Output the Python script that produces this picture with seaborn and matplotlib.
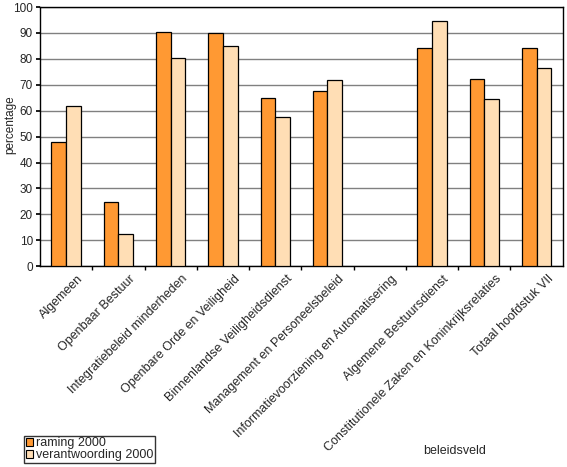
import numpy as np
import pandas as pd
import matplotlib
matplotlib.use("Agg")
import matplotlib.pyplot as plt
import matplotlib.transforms as mtransforms
import seaborn as sns
from matplotlib.ticker import FixedLocator
from matplotlib.patches import Patch

categories = ["Algemeen", "Openbaar Bestuur", "Integratiebeleid minderheden",
              "Openbare Orde en Veiligheid", "Binnenlandse Veiligheidsdienst",
              "Management en Personeelsbeleid", "Informatievoorziening en Automatisering",
              "Algemene Bestuursdienst", "Constitutionele Zaken en Koninkrijksrelaties",
              "Totaal hoofdstuk VII"]
raming = [48.0, 24.8, 90.4, 89.8, 64.7, 67.7, np.nan, 84.0, 72.1, 84.0]
verantwoording = [61.8, 12.3, 80.4, 84.8, 57.5, 71.9, np.nan, 94.7, 64.6, 76.6]
series = ["raming 2000", "verantwoording 2000"]
colors = ["#FF9933", "#FFDEB5"]

sns.set_theme(style="white")
plt.rcParams["font.family"] = ["Liberation Sans", "DejaVu Sans"]

df = pd.DataFrame({
    "beleidsveld": categories * 2,
    "percentage": raming + verantwoording,
    "serie": [series[0]] * len(categories) + [series[1]] * len(categories),
})

fig = plt.figure(figsize=(5.67, 4.67), dpi=100)
ax = fig.add_axes([0.0705, 0.430, 0.922, 0.555])
sns.barplot(data=df, x="beleidsveld", y="percentage", hue="serie", order=categories,
            hue_order=series, palette=colors, saturation=1, width=0.56,
            edgecolor="black", linewidth=0.9, ax=ax, legend=False, zorder=3)

ax.set_ylim(0, 100)
ax.set_xlim(-0.5, len(categories) - 0.5)
ax.set_yticks(range(0, 101, 10))
ax.yaxis.grid(True, color="#808080", linewidth=1.0, zorder=0)
ax.set_axisbelow(True)
for s in ax.spines.values():
    s.set_color("black")
    s.set_linewidth(1.0)

ax.tick_params(axis="y", labelsize=8.5, length=3, color="black", left=True, pad=2)
ax.set_xticks(range(len(categories)))
ax.set_xticklabels(categories, rotation=45, ha="right", va="center",
                   rotation_mode="anchor", fontsize=9)
ax.tick_params(axis="x", which="major", length=0, pad=8)
offset = mtransforms.ScaledTranslation(15 / 100, 0, fig.dpi_scale_trans)
for lab in ax.get_xticklabels():
    lab.set_transform(lab.get_transform() + offset)
ax.xaxis.set_minor_locator(FixedLocator(np.arange(0.5, len(categories) - 0.5, 1)))
ax.tick_params(axis="x", which="minor", length=3, color="black", bottom=True, direction="out")

ax.set_xlabel("")
ax.set_ylabel("")
fig.text(10 / 567, 0.732, "percentage", fontsize=8.5, rotation=90, ha="center", va="center")
fig.text(0.746, 0.034, "beleidsveld", fontsize=9, ha="left", va="center")

handles = [Patch(facecolor=c, edgecolor="black", linewidth=0.8) for c in colors]
leg = fig.legend(handles, series, loc="lower left", bbox_to_anchor=(0.042, 0.008),
                 fontsize=9, frameon=True, fancybox=False, handlelength=0.6,
                 handleheight=0.6, handletextpad=0.2, borderpad=0.15, labelspacing=0.0,
                 borderaxespad=0)
leg.get_frame().set_edgecolor("black")
leg.get_frame().set_linewidth(1.0)

fig.savefig("out.png", dpi=100)
